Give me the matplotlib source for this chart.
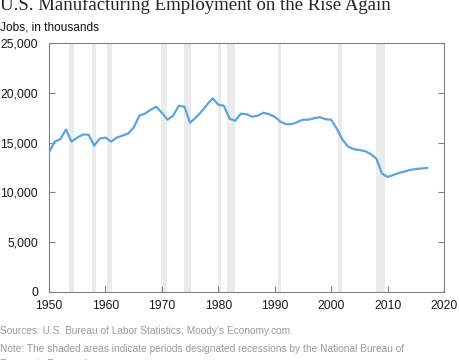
import matplotlib
matplotlib.use("Agg")
import matplotlib.pyplot as plt
from matplotlib.ticker import FuncFormatter

years = list(range(1950, 2018))
jobs = [14.0, 15.1, 15.35, 16.3, 15.1, 15.5, 15.8, 15.8, 14.7, 15.4,
        15.5, 15.1, 15.5, 15.7, 15.9, 16.5, 17.7, 17.9, 18.3, 18.6,
        18.0, 17.3, 17.7, 18.7, 18.6, 17.0, 17.5, 18.1, 18.8, 19.45,
        18.8, 18.7, 17.4, 17.2, 17.9, 17.85, 17.6, 17.7, 18.0, 17.85,
        17.6, 17.1, 16.85, 16.85, 17.05, 17.3, 17.3, 17.45, 17.55, 17.35,
        17.3, 16.4, 15.3, 14.6, 14.35, 14.25, 14.15, 13.85, 13.4, 11.9,
        11.55, 11.75, 11.95, 12.1, 12.25, 12.35, 12.4, 12.45]
jobs = [v * 1000 for v in jobs]

rec_start = [1953.5, 1957.6, 1960.3, 1969.9, 1973.9, 1980.0, 1981.5, 1990.6, 2001.2, 2007.9]
rec_end = [1954.4, 1958.3, 1961.1, 1970.9, 1975.2, 1980.5, 1982.9, 1991.2, 2001.9, 2009.5]

x_ticks = [1950, 1960, 1970, 1980, 1990, 2000, 2010, 2020]
y_ticks = [0, 5000, 10000, 15000, 20000, 25000]

title = "U.S. Manufacturing Employment on the Rise Again"
ylabel = "Jobs, in thousands"
source = "Sources: U.S. Bureau of Labor Statistics; Moody's Economy.com."
note1 = "Note: The shaded areas indicate periods designated recessions by the National Bureau of"
note2 = "Economic Research."

fig = plt.figure(figsize=(4.6, 3.6), dpi=100)
ax = fig.add_axes([49/460, 1 - 292/360, (444-49)/460, (292-43)/360])

for s, e in zip(rec_start, rec_end):
    ax.axvspan(s, e, color="#EBEBEB", lw=0, zorder=0)

ax.plot(years, jobs, color="#5BA4DD", lw=1.6, zorder=3)

ax.set_xlim(1950, 2020)
ax.set_ylim(0, 25000)
ax.set_xticks(x_ticks)
ax.set_yticks(y_ticks)
ax.yaxis.set_major_formatter(FuncFormatter(lambda v, p: f"{int(v):,}"))
for sp in ax.spines.values():
    sp.set_color("#808080")
    sp.set_linewidth(0.8)
ax.tick_params(axis="x", direction="in", length=4, color="#808080", width=0.8,
               labelsize=8.7, pad=6, top=False, labelcolor="#1a1a1a")
ax.tick_params(axis="y", direction="in", length=4, color="#808080", width=0.8,
               labelsize=8.7, pad=8, left=True, right=True, labelcolor="#1a1a1a")
for lab in ax.get_xticklabels() + ax.get_yticklabels():
    lab.set_fontfamily("Liberation Sans")

fig.text(0.0, 1 - 10/360, title, family="Liberation Serif", fontsize=13.5,
         va="baseline", ha="left", color="#222222")
fig.text(0.0, 1 - 27/360, ylabel, family="Liberation Sans", fontsize=8.6,
         va="center", ha="left", color="#111111")
fig.text(0.0, 1 - 331/360, source, family="Liberation Sans", fontsize=7.3,
         va="center", ha="left", color="#9A9A9A")
fig.text(0.0, 1 - 348.5/360, note1, family="Liberation Sans", fontsize=7.25,
         va="center", ha="left", color="#9A9A9A")
fig.text(0.0, 1 - 364/360, note2, family="Liberation Sans", fontsize=7.25,
         va="center", ha="left", color="#9A9A9A")

fig.savefig("out.png", dpi=100)
